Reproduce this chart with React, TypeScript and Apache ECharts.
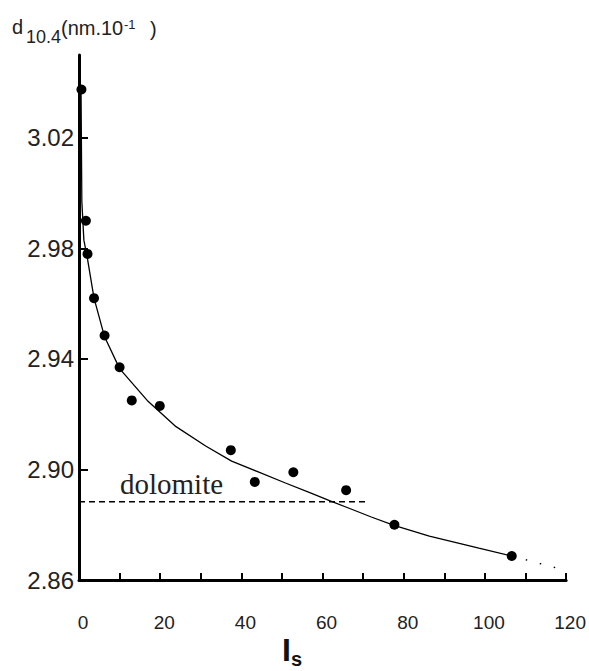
import React, { useEffect, useRef } from "react";
import * as echarts from "echarts";

// Measured points (I_s, d10.4)
const pointsX = [0.6, 1.7, 2.1, 3.7, 6.3, 10.0, 13.0, 19.9, 37.4, 43.3, 52.8, 65.8, 77.7, 106.6];
const pointsY = [3.0375, 2.990, 2.978, 2.962, 2.9485, 2.937, 2.925, 2.923, 2.907, 2.8955, 2.899, 2.8925, 2.880, 2.8687];

// Fitted curve (solid)
const curveX = [0.5, 0.7, 1.2, 2.0, 3.7, 6.3, 10.0, 16.8, 23.9, 31.2, 37.6, 44.0, 50.7, 57.0, 61.7, 67.0, 72.0, 77.6, 86.3, 98.5, 106.6];
const curveY = [3.037, 2.997, 2.983, 2.977, 2.962, 2.948, 2.9365, 2.925, 2.9155, 2.9085, 2.903, 2.8992, 2.8952, 2.8915, 2.8887, 2.8857, 2.8828, 2.8798, 2.8759, 2.8715, 2.8687];

// Dotted extrapolation
const extX = [106.6, 118.5];
const extY = [2.8687, 2.8640];

// Dolomite reference line
const dolomiteX = [0, 71.4];
const dolomiteY = 2.8883;

const xTicks = [0, 10, 20, 30, 40, 50, 60, 70, 80, 90, 100, 110, 120];
const xLabels = [0, 20, 40, 60, 80, 100, 120];
const yTicks = [2.86, 2.90, 2.94, 2.98, 3.02];

const SANS = "'Liberation Sans', Arial, sans-serif";

export default function App() {
  const ref = useRef<HTMLDivElement>(null);
  useEffect(() => {
    if (!ref.current) return;
    const chart = echarts.init(ref.current, null, { renderer: "svg" });
    const zip = (xs: number[], ys: number[]) => xs.map((x, i) => [x, ys[i]]);
    const txt = (text: string, x: number, y: number, font: string, fill = "#222") => ({
      type: "text",
      x,
      y,
      style: { text, font, fill, align: "left", verticalAlign: "middle" },
    });
    chart.setOption({
      animation: false,
      backgroundColor: "#ffffff",
      grid: { left: 79, right: 18, top: 55, bottom: 91, containLabel: false },
      xAxis: {
        type: "value",
        min: 0,
        max: 120,
        interval: 10,
        axisLine: { show: true, lineStyle: { color: "#000", width: 3 } },
        axisTick: { show: true, inside: true, length: 7, lineStyle: { color: "#000", width: 2 }, customValues: xTicks },
        axisLabel: {
          customValues: xLabels,
          margin: 33,
          padding: [0, 0, 0, 8],
          color: "#222",
          fontFamily: SANS,
          fontSize: 19,
          formatter: (v: number) => String(v),
        },
        splitLine: { show: false },
      },
      yAxis: {
        type: "value",
        min: 2.86,
        max: 3.05,
        interval: 0.04,
        axisLine: { show: true, lineStyle: { color: "#000", width: 3 } },
        axisTick: { show: true, inside: true, length: 9, lineStyle: { color: "#000", width: 2 }, customValues: yTicks },
        axisLabel: {
          customValues: yTicks,
          margin: 5,
          color: "#222",
          fontFamily: SANS,
          fontSize: 24,
          formatter: (v: number) => v.toFixed(2),
        },
        splitLine: { show: false },
      },
      graphic: [
        txt("d", 12, 27, `20px ${SANS}`),
        txt("10.4", 26, 36.5, `18px ${SANS}`),
        txt("(nm.10", 61, 27.5, `20px ${SANS}`),
        txt("-1", 124, 24, `13px ${SANS}`),
        txt(")", 150, 28.5, `20px ${SANS}`),
        txt("I", 282, 650, `bold 32px ${SANS}`, "#111"),
        txt("s", 291, 659, `bold 20px ${SANS}`, "#111"),
        txt("dolomite", 120, 484, `29px 'Liberation Serif', 'Times New Roman', serif`),
      ],
      series: [
        {
          type: "line",
          data: zip(dolomiteX, dolomiteX.map(() => dolomiteY)),
          showSymbol: false,
          silent: true,
          lineStyle: { color: "#000", width: 1.5, type: [6, 4] },
        },
        {
          type: "line",
          data: zip(curveX, curveY),
          showSymbol: false,
          silent: true,
          lineStyle: { color: "#000", width: 1.3 },
        },
        {
          type: "line",
          data: zip(extX, extY),
          showSymbol: false,
          silent: true,
          lineStyle: { color: "#000", width: 1.5, type: [1.5, 13] },
        },
        {
          type: "scatter",
          data: zip(pointsX, pointsY),
          symbol: "circle",
          symbolSize: 10,
          itemStyle: { color: "#000", opacity: 1 },
        },
      ],
    });
    return () => chart.dispose();
  }, []);
  return (
    <div
      ref={ref}
      style={{ position: "absolute", left: 0, top: 0, width: 589, height: 671 }}
    />
  );
}
